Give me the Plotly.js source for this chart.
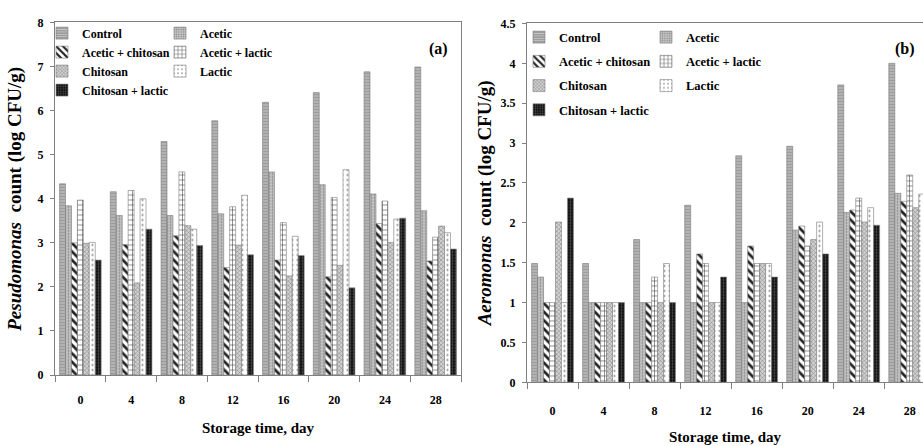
<!DOCTYPE html>
<html>
<head>
<meta charset="utf-8">
<script src="https://cdn.plot.ly/plotly-3.0.1.min.js"></script>
<style>html,body{margin:0;padding:0;background:#fff;overflow:hidden}#chart{width:923px;height:446px}</style>
</head>
<body>
<div id="chart"></div>
<script>
// ---- data ----
var days = ['0', '4', '8', '12', '16', '20', '24', '28'];
var treatments = ['Control', 'Acetic', 'Acetic + chitosan', 'Acetic + lactic', 'Chitosan', 'Lactic', 'Chitosan + lactic'];

// Panel (a): Pseudomonas count (log CFU/g)
var pseudoControl        = [4.34, 4.16, 5.30, 5.77, 6.19, 6.41, 6.88, 6.99];
var pseudoAcetic         = [3.84, 3.62, 3.62, 3.66, 4.61, 4.32, 4.11, 3.73];
var pseudoAceticChitosan = [3.00, 2.96, 3.16, 2.44, 2.61, 2.23, 3.44, 2.59];
var pseudoAceticLactic   = [3.97, 4.19, 4.61, 3.82, 3.46, 4.03, 3.95, 3.13];
var pseudoChitosan       = [2.99, 2.09, 3.39, 2.95, 2.25, 2.49, 3.01, 3.38];
var pseudoLactic         = [3.01, 4.00, 3.31, 4.08, 3.15, 4.66, 3.54, 3.23];
var pseudoChitosanLactic = [2.61, 3.31, 2.94, 2.73, 2.71, 1.98, 3.56, 2.86];

// Panel (b): Aeromonas count (log CFU/g)
var aeroControl        = [1.49, 1.49, 1.79, 2.22, 2.84, 2.96, 3.73, 4.00];
var aeroAcetic         = [1.32, 1.00, 1.00, 1.00, 1.00, 1.91, 2.13, 2.37];
var aeroAceticChitosan = [1.00, 1.00, 1.00, 1.61, 1.71, 1.96, 2.16, 2.27];
var aeroAceticLactic   = [1.00, 1.00, 1.32, 1.49, 1.49, 1.71, 2.31, 2.60];
var aeroChitosan       = [2.01, 1.00, 1.00, 1.00, 1.49, 1.79, 2.01, 2.19];
var aeroLactic         = [1.00, 1.00, 1.49, 1.00, 1.49, 2.01, 2.19, 2.36];
var aeroChitosanLactic = [2.31, 1.00, 1.00, 1.32, 1.32, 1.61, 1.97, null];

var pseudoSeries = [pseudoControl, pseudoAcetic, pseudoAceticChitosan, pseudoAceticLactic, pseudoChitosan, pseudoLactic, pseudoChitosanLactic];
var aeroSeries = [aeroControl, aeroAcetic, aeroAceticChitosan, aeroAceticLactic, aeroChitosan, aeroLactic, aeroChitosanLactic];

// ---- styles ----
var W = 923, H = 446;
function px(x) { return x / W; }
function py(y) { return 1 - y / H; }

var patterns = [
  {shape: '-', bgcolor: '#9c9c9c', fgcolor: '#c8c8c8', size: 3, solidity: 0.35},
  {shape: '.', bgcolor: '#c6c6c6', fgcolor: '#8a8a8a', size: 3, solidity: 0.3},
  {shape: '\\', bgcolor: '#ffffff', fgcolor: '#222222', size: 6, solidity: 0.45},
  {shape: '+', bgcolor: '#ffffff', fgcolor: '#333333', size: 5, solidity: 0.2},
  {shape: 'x', bgcolor: '#d2d2d2', fgcolor: '#7a7a7a', size: 3, solidity: 0.3},
  {shape: '.', bgcolor: '#ffffff', fgcolor: '#8a8a8a', size: 5, solidity: 0.15},
  {shape: '.', bgcolor: '#111111', fgcolor: '#555555', size: 3, solidity: 0.3}
];
var col1 = [0, 2, 4, 6];

var traces = [];
function addPanel(series, xa, ya, legA, legB, grpPrefix) {
  for (var i = 0; i < treatments.length; i++) {
    traces.push({
      type: 'bar',
      name: treatments[i],
      x: days,
      y: series[i],
      xaxis: xa,
      yaxis: ya,
      legend: col1.indexOf(i) >= 0 ? legA : legB,
      legendgroup: grpPrefix + i,
      marker: {
        color: patterns[i].bgcolor,
        pattern: patterns[i],
        line: {color: '#7a7a7a', width: 0.6}
      },
      hoverinfo: 'x+y+name'
    });
  }
}
addPanel(pseudoSeries, 'x', 'y', 'legend', 'legend2', 'a');
addPanel(aeroSeries, 'x2', 'y2', 'legend3', 'legend4', 'b');

var serifFamily = 'Liberation Serif';
var tickFont = {family: serifFamily, size: 12, color: '#000', weight: 'bold'};
var titleFont = {family: serifFamily, size: 15, color: '#000', weight: 'bold'};
var yTitleFont = {family: serifFamily, size: 19, color: '#000', weight: 'bold'};
var axisCommon = {
  showline: true, linecolor: '#808080', linewidth: 1,
  ticks: 'outside', tickcolor: '#808080', tickwidth: 1,
  showgrid: false, zeroline: false, tickfont: tickFont, automargin: true,
  fixedrange: true
};
function merge(a, b) { var o = {}; for (var k in a) o[k] = a[k]; for (var k2 in b) o[k2] = b[k2]; return o; }

function leg(x, y, gap, size) {
  return {x: px(x), y: py(y), xanchor: 'left', yanchor: 'top', xref: 'paper', yref: 'paper',
          orientation: 'v', bgcolor: 'rgba(0,0,0,0)', borderwidth: 0,
          font: {family: serifFamily, size: size, color: '#000', weight: 'bold'},
          tracegroupgap: gap, itemclick: false, itemdoubleclick: false};
}

var layout = {
  width: W, height: H,
  margin: {l: 0, r: 0, t: 0, b: 0},
  paper_bgcolor: '#fff', plot_bgcolor: '#fff',
  barmode: 'group', bargap: 0.18, bargroupgap: 0,
  showlegend: true,
  xaxis: merge(axisCommon, {
    domain: [px(55), px(461)], anchor: 'y', range: [-0.5, 7.5], type: 'category',
    tickson: 'boundaries', ticklen: 6, ticklabelstandoff: 14, mirror: true,
    title: {text: 'Storage time, day', font: titleFont, standoff: 16}
  }),
  yaxis: merge(axisCommon, {
    domain: [py(380), py(16)], anchor: 'x', range: [0, 8], dtick: 1, ticklen: 4,
    ticklabelstandoff: 4, mirror: true,
    title: {text: '<i>Pesudomonas</i>  count (log CFU/g)', font: yTitleFont, standoff: 10}
  }),
  xaxis2: merge(axisCommon, {
    domain: [px(527), 1], anchor: 'y2', range: [-0.5, 7.26], type: 'category',
    tickson: 'boundaries', ticklen: 6, ticklabelstandoff: 17, mirror: true,
    title: {text: 'Storage time, day', font: titleFont, standoff: 14}
  }),
  yaxis2: merge(axisCommon, {
    domain: [py(387.5), py(17)], anchor: 'x2', range: [0, 4.5], dtick: 0.5, ticklen: 4,
    ticklabelstandoff: 4, mirror: false,
    title: {text: '<i>Aeromonas</i>  count (log CFU/g)', font: yTitleFont, standoff: 3}
  }),
  legend: leg(42, 12, 0, 12),
  legend2: leg(160, 12, 0, 12),
  legend3: leg(519, 16, 5, 12.5),
  legend4: leg(646, 16, 5, 12.5),
  annotations: [
    {text: '(a)', x: px(438), y: py(43), xref: 'paper', yref: 'paper', showarrow: false,
     xanchor: 'center', yanchor: 'middle',
     font: {family: serifFamily, size: 16, color: '#000', weight: 'bold'}},
    {text: '(b)', x: px(905), y: py(43), xref: 'paper', yref: 'paper', showarrow: false,
     xanchor: 'center', yanchor: 'middle',
     font: {family: serifFamily, size: 16, color: '#000', weight: 'bold'}}
  ]
};

Plotly.newPlot('chart', traces, layout, {displayModeBar: false, responsive: false});
</script>
</body>
</html>
